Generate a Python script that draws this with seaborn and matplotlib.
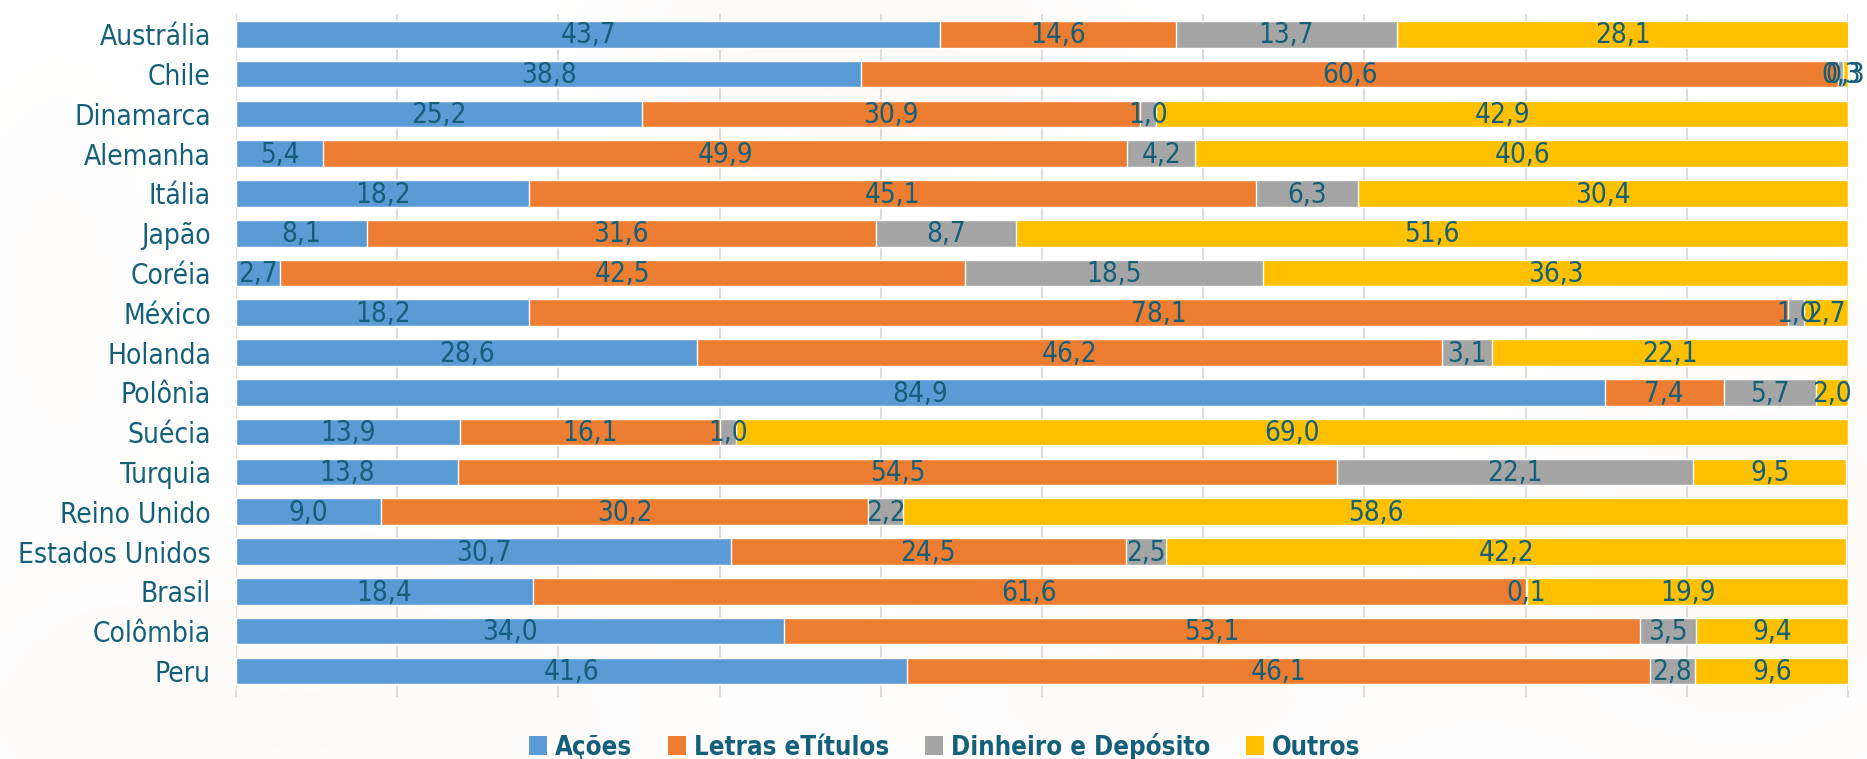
import numpy as np
import pandas as pd
import seaborn as sns
import matplotlib.pyplot as plt
from matplotlib.patches import Patch

paises = ["Austrália", "Chile", "Dinamarca", "Alemanha", "Itália", "Japão", "Coréia",
          "México", "Holanda", "Polônia", "Suécia", "Turquia", "Reino Unido",
          "Estados Unidos", "Brasil", "Colômbia", "Peru"]
acoes = [43.7, 38.8, 25.2, 5.4, 18.2, 8.1, 2.7, 18.2, 28.6, 84.9, 13.9, 13.8, 9.0, 30.7, 18.4, 34.0, 41.6]
letras = [14.6, 60.6, 30.9, 49.9, 45.1, 31.6, 42.5, 78.1, 46.2, 7.4, 16.1, 54.5, 30.2, 24.5, 61.6, 53.1, 46.1]
dinheiro = [13.7, 0.3, 1.0, 4.2, 6.3, 8.7, 18.5, 1.0, 3.1, 5.7, 1.0, 22.1, 2.2, 2.5, 0.1, 3.5, 2.8]
outros = [28.1, 0.3, 42.9, 40.6, 30.4, 51.6, 36.3, 2.7, 22.1, 2.0, 69.0, 9.5, 58.6, 42.2, 19.9, 9.4, 9.6]

series = ["Ações", "Letras eTítulos", "Dinheiro e Depósito", "Outros"]
cores = ["#5B9BD5", "#ED7D31", "#A5A5A5", "#FFC000"]
teal = "#14607A"

df = pd.DataFrame({"País": paises, series[0]: acoes, series[1]: letras,
                   series[2]: dinheiro, series[3]: outros})
acum = df[series].cumsum(axis=1)

sns.set_theme(style="white")
plt.rcParams["font.family"] = ["DejaVu Sans"]
plt.rcParams["font.stretch"] = "condensed"

W, H = 1867, 759
fig = plt.figure(figsize=(W / 100, H / 100), dpi=100)
fig.patch.set_facecolor("white")

# soft peach wash behind the chart
bg = fig.add_axes([0, 0, 1, 1], zorder=-10)
yy, xx = np.mgrid[0:H, 0:W].astype(float)
wash = np.zeros((H, W))
for cx, cy, sx, sy, a in [(850, 40, 220, 110, 0.55), (300, 720, 380, 160, 0.45),
                          (1750, 560, 260, 260, 0.35), (1150, 700, 300, 120, 0.30),
                          (60, 300, 120, 260, 0.20)]:
    wash += a * np.exp(-(((xx - cx) / sx) ** 2 + ((yy - cy) / sy) ** 2))
wash = np.clip(wash, 0, 1) * 0.09
peach = np.array([0.96, 0.60, 0.48])
img = 1 - wash[..., None] * (1 - peach)
bg.imshow(img, aspect="auto", extent=(0, 1, 0, 1), interpolation="bilinear")
bg.set_axis_off()

ax = fig.add_axes([0.1264, 0.0909, 0.8634, 0.8907])
ax.set_facecolor("none")

# stacked bars: draw cumulative totals from the last series back to the first
for nome, cor in reversed(list(zip(series, cores))):
    sns.barplot(x=acum[nome], y=df["País"], color=cor, saturation=1,
                width=0.67, orient="h", ax=ax, zorder=2)

# value labels centred in each segment
for i in range(len(df)):
    for nome in series:
        v = df.loc[i, nome]
        ini = acum.loc[i, nome] - v
        ax.text(ini + v / 2, i + 0.03, f"{v:.1f}".replace(".", ","), ha="center",
                va="center", fontsize=20, color=teal, zorder=3)

ax.set_xlim(0, 100)
ax.set_ylim(16.48, -0.51)
ax.set_xticks(np.arange(0, 101, 10))
ax.set_xticklabels([])
ax.xaxis.grid(True, color="#D9D9D9", lw=1.3, zorder=0)
ax.yaxis.grid(False)
ax.tick_params(axis="x", bottom=True, length=5, width=1.3, color="#D9D9D9")
ax.tick_params(axis="y", length=0, pad=18, labelsize=20.2, labelcolor=teal)
ax.set_xlabel("")
ax.set_ylabel("")
for s in ax.spines.values():
    s.set_visible(False)

handles = [Patch(facecolor=c, edgecolor="none") for c in cores]
fig.legend(handles, series, loc="center", bbox_to_anchor=(0.506, 0.016), ncol=4,
           frameon=False, prop={"weight": "bold", "size": 18.5, "stretch": "condensed"},
           labelcolor=teal, handlelength=0.7, handleheight=0.75, handletextpad=0.3,
           columnspacing=1.4)

fig.savefig("out.png", dpi=100, facecolor=fig.get_facecolor())
